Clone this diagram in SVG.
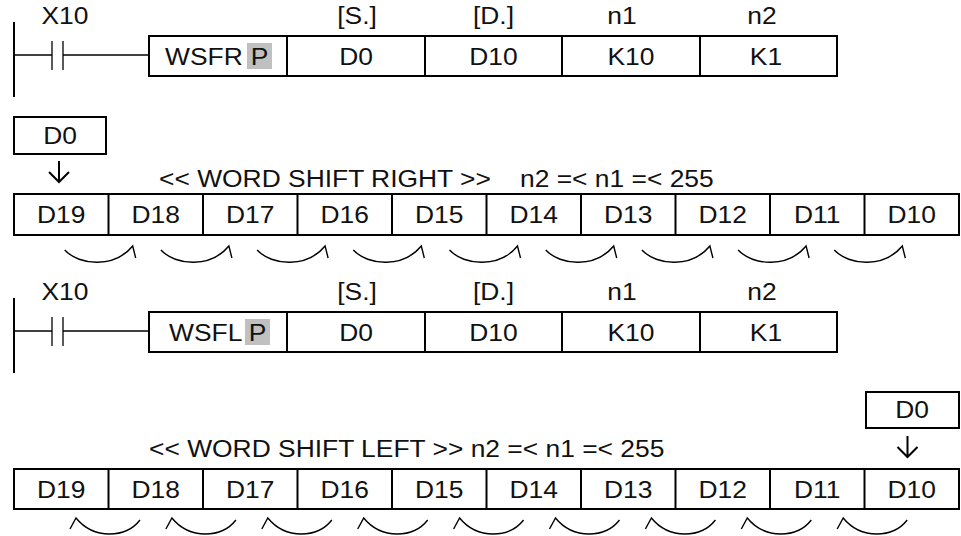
<svg xmlns="http://www.w3.org/2000/svg" width="961" height="536" viewBox="0 0 961 536">
<style>
text{font-family:"Liberation Sans",Arial,sans-serif;font-size:24px;fill:#111}
.m{text-anchor:middle}
.box{fill:#fff;stroke:#000;stroke-width:2}
.div{stroke:#000;stroke-width:2}
.rail{stroke:#000;stroke-width:2}
.ln{fill:none;stroke:#000;stroke-width:1.3}
.arc{fill:none;stroke:#000;stroke-width:1.4}
.arw{fill:none;stroke:#000;stroke-width:2}
.gray{fill:#c0c0c0}
</style>
<defs>
<path id="arcR" class="arc" d="M-68,4 C-53,20 -18,22 0,0 L3,12"/>
<path id="arcL" class="arc" d="M-6,11 L0,0 C18,22 50,20 64,2"/>
</defs>

<g id="rung1">
<line class="rail" x1="14" y1="22" x2="14" y2="97"/>
<text transform="translate(65,24) scale(1.1,1)" class="m">X10</text>
<line class="ln" x1="14" y1="55" x2="52" y2="55"/>
<line class="ln" x1="52" y1="41" x2="52" y2="70"/>
<line class="ln" x1="63" y1="41" x2="63" y2="70"/>
<line class="ln" x1="63" y1="55" x2="149" y2="55"/>
</g>
<g id="instr1">
<text transform="translate(357,24) scale(1.1,1)" class="m">[S.]</text>
<text transform="translate(493.5,24) scale(1.1,1)" class="m">[D.]</text>
<text transform="translate(622,24) scale(1.1,1)" class="m">n1</text>
<text transform="translate(762,24) scale(1.1,1)" class="m">n2</text>
<rect class="box" x="149" y="36" width="688" height="40"/>
<line class="div" x1="287" y1="36" x2="287" y2="76"/>
<line class="div" x1="425" y1="36" x2="425" y2="76"/>
<line class="div" x1="562" y1="36" x2="562" y2="76"/>
<line class="div" x1="700" y1="36" x2="700" y2="76"/>
<text transform="translate(165,65) scale(1.1,1)">WSFR</text>
<rect class="gray" x="247" y="43" width="25" height="26"/>
<text transform="translate(259.5,65) scale(1.1,1)" class="m">P</text>
<text transform="translate(356,65) scale(1.1,1)" class="m">D0</text>
<text transform="translate(493.5,65) scale(1.1,1)" class="m">D10</text>
<text transform="translate(631,65) scale(1.1,1)" class="m">K10</text>
<text transform="translate(766,65) scale(1.1,1)" class="m">K1</text>
</g>

<g id="src1">
<rect class="box" x="14" y="117" width="92" height="37"/>
<text transform="translate(60,144) scale(1.1,1)" class="m">D0</text>
</g>
<text transform="translate(159,187) scale(1.1,1)">&lt;&lt; WORD SHIFT RIGHT &gt;&gt;</text>
<text transform="translate(520,187) scale(1.1,1)">n2 =&lt; n1 =&lt; 255</text>

<g id="row1">
<rect class="box" x="14" y="194" width="945" height="41"/>
<line class="div" x1="108.5" y1="194" x2="108.5" y2="235"/>
<line class="div" x1="203" y1="194" x2="203" y2="235"/>
<line class="div" x1="297.5" y1="194" x2="297.5" y2="235"/>
<line class="div" x1="392" y1="194" x2="392" y2="235"/>
<line class="div" x1="486.5" y1="194" x2="486.5" y2="235"/>
<line class="div" x1="581" y1="194" x2="581" y2="235"/>
<line class="div" x1="675.5" y1="194" x2="675.5" y2="235"/>
<line class="div" x1="770" y1="194" x2="770" y2="235"/>
<line class="div" x1="864.5" y1="194" x2="864.5" y2="235"/>
<text transform="translate(61.25,223) scale(1.1,1)" class="m">D19</text>
<text transform="translate(155.75,223) scale(1.1,1)" class="m">D18</text>
<text transform="translate(250.25,223) scale(1.1,1)" class="m">D17</text>
<text transform="translate(344.75,223) scale(1.1,1)" class="m">D16</text>
<text transform="translate(439.25,223) scale(1.1,1)" class="m">D15</text>
<text transform="translate(533.75,223) scale(1.1,1)" class="m">D14</text>
<text transform="translate(628.25,223) scale(1.1,1)" class="m">D13</text>
<text transform="translate(722.75,223) scale(1.1,1)" class="m">D12</text>
<text transform="translate(817.25,223) scale(1.1,1)" class="m">D11</text>
<text transform="translate(911.75,223) scale(1.1,1)" class="m">D10</text>
</g>

<g id="rung2">
<line class="rail" x1="14" y1="298" x2="14" y2="373"/>
<text transform="translate(65,300) scale(1.1,1)" class="m">X10</text>
<line class="ln" x1="14" y1="331" x2="52" y2="331"/>
<line class="ln" x1="52" y1="317" x2="52" y2="346"/>
<line class="ln" x1="63" y1="317" x2="63" y2="346"/>
<line class="ln" x1="63" y1="331" x2="149" y2="331"/>
</g>
<g id="instr2">
<text transform="translate(357,300) scale(1.1,1)" class="m">[S.]</text>
<text transform="translate(493.5,300) scale(1.1,1)" class="m">[D.]</text>
<text transform="translate(622,300) scale(1.1,1)" class="m">n1</text>
<text transform="translate(762,300) scale(1.1,1)" class="m">n2</text>
<rect class="box" x="149" y="312" width="688" height="40"/>
<line class="div" x1="287" y1="312" x2="287" y2="352"/>
<line class="div" x1="425" y1="312" x2="425" y2="352"/>
<line class="div" x1="562" y1="312" x2="562" y2="352"/>
<line class="div" x1="700" y1="312" x2="700" y2="352"/>
<text transform="translate(169,341) scale(1.1,1)">WSFL</text>
<rect class="gray" x="245" y="319" width="25" height="26"/>
<text transform="translate(257.5,341) scale(1.1,1)" class="m">P</text>
<text transform="translate(356,341) scale(1.1,1)" class="m">D0</text>
<text transform="translate(493.5,341) scale(1.1,1)" class="m">D10</text>
<text transform="translate(631,341) scale(1.1,1)" class="m">K10</text>
<text transform="translate(766,341) scale(1.1,1)" class="m">K1</text>
</g>

<g id="src2">
<rect class="box" x="866" y="392" width="93" height="36"/>
<text transform="translate(912,418) scale(1.1,1)" class="m">D0</text>
</g>
<text transform="translate(149,457) scale(1.1,1)">&lt;&lt; WORD SHIFT LEFT &gt;&gt; n2 =&lt; n1 =&lt; 255</text>

<g id="row2">
<rect class="box" x="14" y="469" width="945" height="40"/>
<line class="div" x1="108.5" y1="469" x2="108.5" y2="509"/>
<line class="div" x1="203" y1="469" x2="203" y2="509"/>
<line class="div" x1="297.5" y1="469" x2="297.5" y2="509"/>
<line class="div" x1="392" y1="469" x2="392" y2="509"/>
<line class="div" x1="486.5" y1="469" x2="486.5" y2="509"/>
<line class="div" x1="581" y1="469" x2="581" y2="509"/>
<line class="div" x1="675.5" y1="469" x2="675.5" y2="509"/>
<line class="div" x1="770" y1="469" x2="770" y2="509"/>
<line class="div" x1="864.5" y1="469" x2="864.5" y2="509"/>
<text transform="translate(61.25,498) scale(1.1,1)" class="m">D19</text>
<text transform="translate(155.75,498) scale(1.1,1)" class="m">D18</text>
<text transform="translate(250.25,498) scale(1.1,1)" class="m">D17</text>
<text transform="translate(344.75,498) scale(1.1,1)" class="m">D16</text>
<text transform="translate(439.25,498) scale(1.1,1)" class="m">D15</text>
<text transform="translate(533.75,498) scale(1.1,1)" class="m">D14</text>
<text transform="translate(628.25,498) scale(1.1,1)" class="m">D13</text>
<text transform="translate(722.75,498) scale(1.1,1)" class="m">D12</text>
<text transform="translate(817.25,498) scale(1.1,1)" class="m">D11</text>
<text transform="translate(911.75,498) scale(1.1,1)" class="m">D10</text>
</g>

<g id="connectors">
<path class="arw" d="M59,161 V182 M49,172 L59,182 L69,172"/>
<path class="arw" d="M907.5,436 V457 M897.5,447 L907.5,457 L917.5,447"/>
<use href="#arcR" x="132.7" y="246"/>
<use href="#arcR" x="228.9" y="246"/>
<use href="#arcR" x="325.1" y="246"/>
<use href="#arcR" x="421.3" y="246"/>
<use href="#arcR" x="517.5" y="246"/>
<use href="#arcR" x="613.7" y="246"/>
<use href="#arcR" x="709.9" y="246"/>
<use href="#arcR" x="806.1" y="246"/>
<use href="#arcR" x="902.3" y="246"/>
<use href="#arcL" x="76" y="518"/>
<use href="#arcL" x="171.9" y="518"/>
<use href="#arcL" x="267.8" y="518"/>
<use href="#arcL" x="363.7" y="518"/>
<use href="#arcL" x="459.6" y="518"/>
<use href="#arcL" x="555.5" y="518"/>
<use href="#arcL" x="651.4" y="518"/>
<use href="#arcL" x="747.3" y="518"/>
<use href="#arcL" x="843.2" y="518"/>
</g>
</svg>
